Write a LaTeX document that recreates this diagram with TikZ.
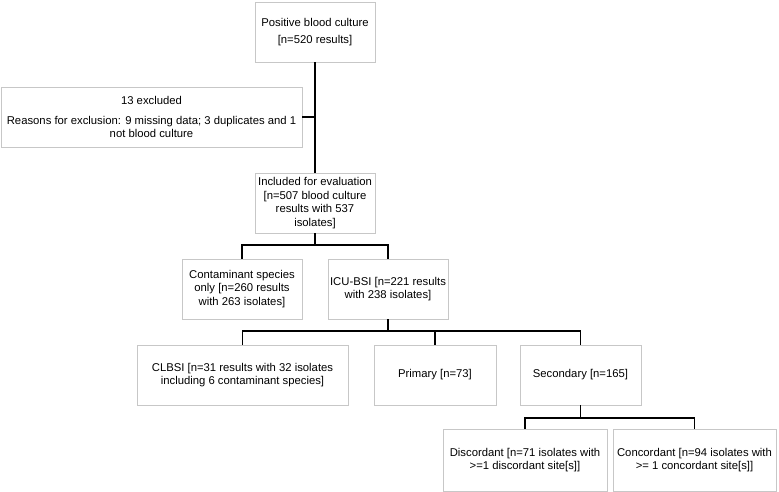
\documentclass[tikz,border=0pt]{standalone}
\usepackage{fontspec}
\setmainfont{Liberation Sans}
\usepackage{tikz}

\begin{document}
\begin{tikzpicture}[x=1pt, y=-1pt,
        box/.style={draw=black!22, line width=0.6pt, align=center, font=\fontsize{11.3}{13.4}\selectfont, inner sep=1pt, minimum height=60pt},
        link/.style={line width=1.4pt}]
        \useasboundingbox (0,0) rectangle (779,492);

        \node[box, minimum width=120pt] (positive) at (315, 32) {Positive blood culture\\[3.5pt] {[}n=520 results]};
        \node[box, minimum width=301pt] (excluded) at (151.5, 117) {13 excluded\\[6pt] Reasons for exclusion: 9 missing data; 3 duplicates and 1\\ not blood culture};
        \node[box, minimum width=120pt] (included) at (315, 203) {Included for evaluation\\ {[}n=507 blood culture\\ results with 537\\ isolates]};
        \node[box, minimum width=120pt] (contam) at (242, 289) {Contaminant species\\ only [n=260 results\\ with 263 isolates]};
        \node[box, minimum width=120pt] (icu) at (388, 289) {ICU-BSI [n=221 results\\ with 238 isolates]};
        \node[box, minimum width=211pt] (clbsi) at (242.5, 375) {CLBSI [n=31 results with 32 isolates\\ including 6 contaminant species]};
        \node[box, minimum width=122pt] (primary) at (435, 375) {Primary [n=73]};
        \node[box, minimum width=121pt] (secondary) at (580.5, 375) {Secondary [n=165]};
        \node[box, minimum width=164pt, minimum height=62pt] (discordant) at (525, 460) {Discordant [n=71 isolates with\\ >=1 discordant site[s]]};
        \node[box, minimum width=163pt, minimum height=62pt] (concordant) at (694.5, 460) {Concordant [n=94 isolates with\\ >= 1 concordant site[s]]};

        \coordinate (split1) at (315, 245);
        \coordinate (split2) at (388, 331);
        \coordinate (split3) at (580.5, 418);

        \draw[link] (positive) -- (included);
        \draw[link] (excluded.east) -- (positive.south |- excluded.east);
        \draw[link] (included) -- (split1);
        \draw[link] (split1) -| (contam);
        \draw[link] (split1) -| (icu);
        \draw[link] (icu) -- (split2);
        \draw[link] (split2) -| (clbsi);
        \draw[link] (split2) -| (primary);
        \draw[link] (split2) -| (secondary);
        \draw[link] (secondary) -- (split3);
        \draw[link] (split3) -| (discordant);
        \draw[link] (split3) -| (concordant);
    \end{tikzpicture}
\end{document}
